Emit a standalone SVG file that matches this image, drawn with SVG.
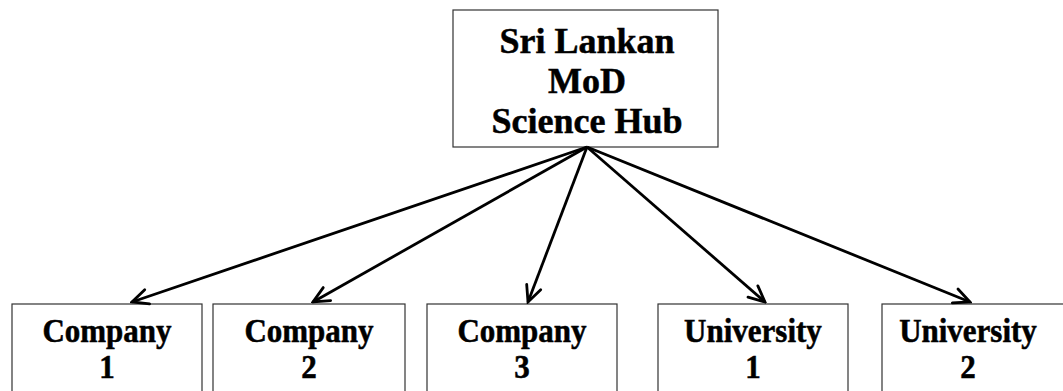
<svg xmlns="http://www.w3.org/2000/svg" width="1063" height="391" viewBox="0 0 1063 391">
<style>
.box{fill:#fff;stroke:#333;stroke-width:1.2}
.t{font-family:"Liberation Serif","Times New Roman",serif;font-weight:bold;fill:#000;stroke:#000;stroke-width:0.5;text-anchor:middle}
.big{font-size:36px}
.sm{font-size:31px}
.c{stroke:#000;stroke-width:2.8;fill:none;marker-end:url(#ah)}
</style>
<defs>
<marker id="ah" markerUnits="userSpaceOnUse" viewBox="-20 -10 22 20" markerWidth="22" markerHeight="20" refX="0" refY="0" orient="auto">
<path d="M-16,-7.5 L0,0 L-16,7.5" fill="none" stroke="#000" stroke-width="2.8" stroke-linecap="round" stroke-linejoin="miter"/>
</marker>
</defs>
<rect width="1063" height="391" fill="#fff"/>
<g id="hub">
<rect class="box" x="453" y="10" width="265" height="137"/>
<text class="t big" x="587" y="53">Sri Lankan</text>
<text class="t big" x="587" y="93">MoD</text>
<text class="t big" x="587" y="133">Science Hub</text>
</g>
<g id="company1">
<rect class="box" x="12" y="304" width="190" height="100"/>
<g transform="scale(1,1.1)">
<text class="t sm" x="107" y="310.9">Company</text>
<text class="t sm" x="107" y="343.6">1</text>
</g>
</g>
<g id="company2">
<rect class="box" x="213" y="304" width="192" height="100"/>
<g transform="scale(1,1.1)">
<text class="t sm" x="309" y="310.9">Company</text>
<text class="t sm" x="309" y="343.6">2</text>
</g>
</g>
<g id="company3">
<rect class="box" x="427" y="304" width="190" height="100"/>
<g transform="scale(1,1.1)">
<text class="t sm" x="522" y="310.9">Company</text>
<text class="t sm" x="522" y="343.6">3</text>
</g>
</g>
<g id="university1">
<rect class="box" x="658" y="304" width="190" height="100"/>
<g transform="scale(1,1.1)">
<text class="t sm" x="753" y="310.9">University</text>
<text class="t sm" x="753" y="343.6">1</text>
</g>
</g>
<g id="university2">
<rect class="box" x="882" y="304" width="190" height="100"/>
<g transform="scale(1,1.1)">
<text class="t sm" x="968" y="310.9">University</text>
<text class="t sm" x="968" y="343.6">2</text>
</g>
</g>
<g id="connectors">
<line class="c" x1="587" y1="147" x2="132" y2="302"/>
<line class="c" x1="587" y1="147" x2="313" y2="302"/>
<line class="c" x1="587" y1="147" x2="528" y2="302"/>
<line class="c" x1="587" y1="147" x2="765" y2="302"/>
<line class="c" x1="587" y1="147" x2="970" y2="302"/>
</g>
</svg>
